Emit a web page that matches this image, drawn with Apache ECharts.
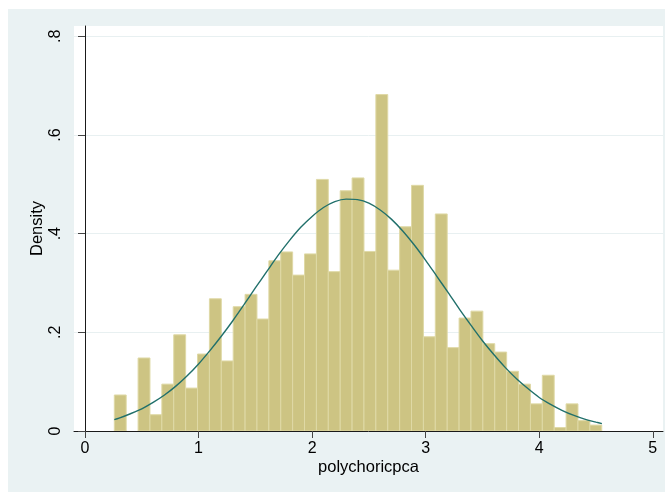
<!DOCTYPE html>
<html>
<head>
<meta charset="utf-8">
<script src="https://cdn.jsdelivr.net/npm/echarts@6/dist/echarts.min.js"></script>
<style>
  html, body { margin: 0; padding: 0; background: #ffffff; }
  #chart { width: 665px; height: 493px; }
</style>
</head>
<body>
<div id="chart"></div>
<script>
// Histogram bins: lower edge of the first bin and the common bin width
const binStart = 0.258;
const binWidth = 0.1047;

// Density of each bin, left to right
const densities = [
  0.073, 0.000, 0.148, 0.033, 0.095, 0.195, 0.087, 0.156, 0.268, 0.142,
  0.252, 0.277, 0.227, 0.345, 0.363, 0.316, 0.359, 0.510, 0.323, 0.487,
  0.513, 0.364, 0.682, 0.326, 0.414, 0.498, 0.191, 0.440, 0.169, 0.229,
  0.243, 0.177, 0.160, 0.121, 0.095, 0.055, 0.113, 0.007, 0.055, 0.021,
  0.012
];

// Normal density overlay, sampled along the data range
const curveX = [0.258, 0.3, 0.4, 0.5, 0.6, 0.7, 0.8, 0.9, 1.0, 1.1, 1.2, 1.3, 1.4, 1.5,
                1.6, 1.7, 1.8, 1.9, 2.0, 2.1, 2.2, 2.3, 2.4, 2.5, 2.6, 2.7, 2.8, 2.9,
                3.0, 3.1, 3.2, 3.3, 3.4, 3.5, 3.6, 3.7, 3.8, 3.9, 4.0, 4.1, 4.2, 4.3,
                4.4, 4.5, 4.552];
const curveY = [0.023, 0.026, 0.035, 0.045, 0.058, 0.073, 0.091, 0.112, 0.136, 0.163, 0.192, 0.223, 0.256, 0.290,
                0.323, 0.356, 0.386, 0.413, 0.435, 0.453, 0.465, 0.470, 0.469, 0.462, 0.448, 0.429, 0.405, 0.377,
                0.346, 0.313, 0.280, 0.246, 0.214, 0.183, 0.155, 0.129, 0.106, 0.086, 0.068, 0.054, 0.042, 0.032,
                0.024, 0.018, 0.015];

// Axis ticks and titles
const xTicks = [0, 1, 2, 3, 4, 5];
const yTicks = [0, 0.2, 0.4, 0.6, 0.8];
const xTitle = 'polychoricpca';
const yTitle = 'Density';

const FONT = 'Liberation Sans, Arial, Helvetica, sans-serif';

const chart = echarts.init(document.getElementById('chart'), null, { renderer: 'canvas' });

const binData = densities.map((d, i) => [binStart + i * binWidth, binStart + (i + 1) * binWidth, d]);
const curveData = curveX.map((x, i) => [x, curveY[i]]);

const fmtY = v => {
  if (Math.abs(v) < 1e-9) return '0';
  return (Math.round(v * 10) / 10).toString().replace(/^0/, '');
};

chart.setOption({
  animation: false,
  backgroundColor: '#ffffff',
  graphic: [{
    type: 'rect',
    z: -10,
    silent: true,
    shape: { x: 8, y: 9, width: 657, height: 483 },
    style: { fill: '#eaf2f3' }
  }],
  grid: {
    left: 74, right: 2, top: 26, bottom: 62,
    show: true, backgroundColor: '#ffffff', borderWidth: 0
  },
  xAxis: {
    type: 'value',
    min: -0.0969,
    max: 5.09,
    name: xTitle,
    nameLocation: 'middle',
    nameGap: 28,
    nameMoveOverlap: false,
    nameTextStyle: { fontFamily: FONT, fontSize: 16.5, color: '#000' },
    axisLine: { show: true, lineStyle: { color: '#1a1a1a', width: 1 } },
    axisTick: { show: true, length: 7, customValues: xTicks, lineStyle: { color: '#444', width: 1 } },
    axisLabel: {
      customValues: xTicks,
      margin: 10,
      fontFamily: FONT, fontSize: 16, color: '#000',
      formatter: v => String(Math.round(v))
    },
    splitLine: { show: false }
  },
  yAxis: {
    type: 'value',
    min: 0,
    max: 0.821,
    interval: 0.2,
    name: yTitle,
    nameLocation: 'middle',
    nameGap: 28,
    nameMoveOverlap: false,
    nameTextStyle: { fontFamily: FONT, fontSize: 16.5, color: '#000' },
    axisLine: { show: true, lineStyle: { color: '#1a1a1a', width: 1 } },
    axisTick: { show: true, length: 7, customValues: yTicks, lineStyle: { color: '#444', width: 1 } },
    axisLabel: {
      customValues: yTicks,
      rotate: 90,
      margin: 10,
      fontFamily: FONT, fontSize: 16, color: '#000',
      formatter: fmtY
    },
    splitLine: { show: true, lineStyle: { color: '#e8f0f1', width: 1 } }
  },
  series: [
    {
      type: 'custom',
      data: binData,
      encode: { x: [0, 1], y: 2 },
      clip: true,
      z: 2,
      renderItem: function (params, api) {
        const h = api.value(2);
        if (h <= 0) return null;
        const p0 = api.coord([api.value(0), h]);
        const p1 = api.coord([api.value(1), 0]);
        return {
          type: 'rect',
          shape: { x: p0[0], y: p0[1], width: p1[0] - p0[0], height: p1[1] - p0[1] },
          style: { fill: '#cdc483', stroke: '#dfd9a6', lineWidth: 1 }
        };
      }
    },
    {
      type: 'line',
      data: curveData,
      smooth: 0.3,
      showSymbol: false,
      z: 3,
      lineStyle: { color: '#21706b', width: 1.4 }
    }
  ]
});
</script>
</body>
</html>
